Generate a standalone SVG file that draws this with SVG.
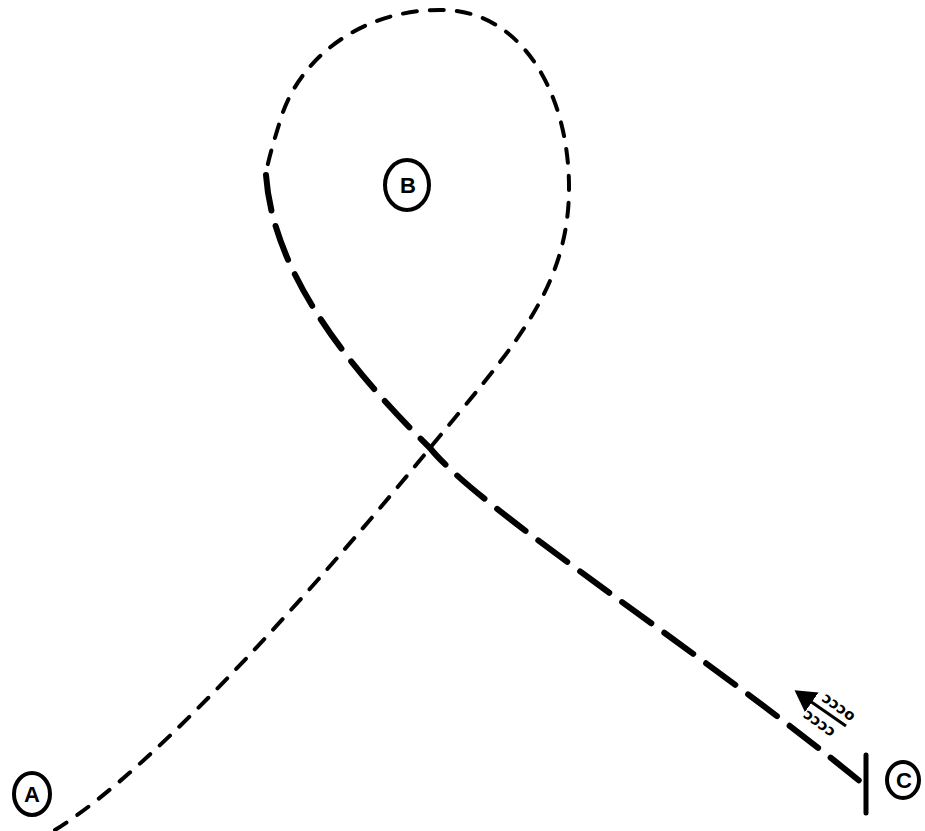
<svg xmlns="http://www.w3.org/2000/svg" width="925" height="831" viewBox="0 0 925 831">
<style>
.short{fill:none;stroke:#000;stroke-width:4;stroke-dasharray:14 13;stroke-linecap:round}
.long{fill:none;stroke:#000;stroke-width:6;stroke-dasharray:36 16;stroke-linecap:round}
.ring{fill:#fff;stroke:#000;stroke-width:4}
.lbl{font-family:"Liberation Sans",Arial,sans-serif;font-weight:bold;font-size:22px;text-anchor:middle;fill:#000}
.mk{font-family:"DejaVu Sans",sans-serif;font-weight:bold;font-size:15px;text-anchor:middle;fill:#000}
</style>
<defs>
<marker id="ah" markerWidth="8" markerHeight="8" refX="6" refY="4" orient="auto" markerUnits="strokeWidth">
<path d="M0,0 L7,4 L0,8 Z" fill="#000"/>
</marker>
</defs>
<g id="connectors">
<path class="short" d="M55,830 C160,765 330,570 430,448 C510,350 570,290 569,185 C568,90 520,12 445,10 C360,8 300,60 282,115 C274,140 269,158 267,168"/>
<path class="long" d="M266,175 C272,260 330,350 430,448 C480,510 700,650 862,783"/>
<line x1="866" y1="755" x2="866" y2="813" stroke="#000" stroke-width="5" stroke-linecap="round"/>
<line x1="846" y1="726" x2="797" y2="692" stroke="#000" stroke-width="3" marker-end="url(#ah)"/>
</g>
<g id="motion">
<text class="mk" transform="translate(836,711) rotate(36)">ɔɔɔo</text>
<text class="mk" transform="translate(817,727) rotate(36)">ɔɔɔɔ</text>
</g>
<g id="nodeA">
<ellipse class="ring" cx="32" cy="794" rx="18" ry="21"/>
<text class="lbl" x="32" y="802">A</text>
</g>
<g id="nodeB">
<ellipse class="ring" cx="407" cy="185" rx="22" ry="25"/>
<text class="lbl" x="408" y="193">B</text>
</g>
<g id="nodeC">
<ellipse class="ring" cx="903" cy="780" rx="16" ry="18"/>
<text class="lbl" x="904" y="788">C</text>
</g>
</svg>
